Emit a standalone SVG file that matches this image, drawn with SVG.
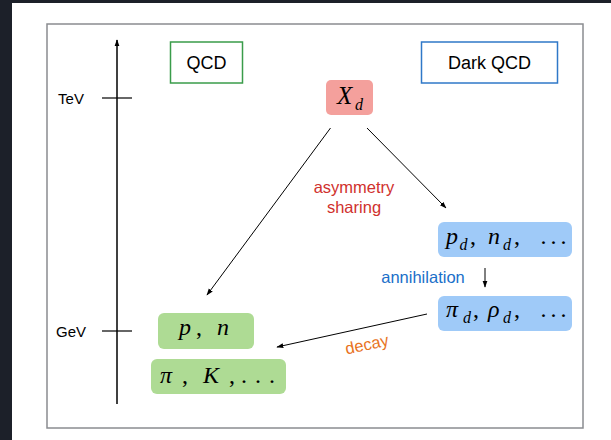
<svg xmlns="http://www.w3.org/2000/svg" width="611" height="440" viewBox="0 0 611 440">
<defs>
<marker id="ah" viewBox="0 0 10 10" refX="9" refY="5" markerWidth="7" markerHeight="7" orient="auto-start-reverse" markerUnits="userSpaceOnUse">
<path d="M0,1.5 L10,5 L0,8.5 Z" fill="#000"/>
</marker>
<style>
.lab{font-family:"Liberation Sans",Arial,sans-serif;font-size:18px;fill:#000;text-anchor:middle}
.ax{font-family:"Liberation Sans",Arial,sans-serif;font-size:15px;fill:#000;text-anchor:middle}
.math{font-family:"Liberation Serif","DejaVu Serif",serif;font-size:24px;fill:#000}
.it{font-style:italic}
.sub{font-size:16px;font-style:italic}
.note{font-family:"Liberation Sans",Arial,sans-serif;font-size:16.5px;text-anchor:middle}
.ln{stroke:#000;stroke-width:1;fill:none}
</style>
</defs>
<rect x="0" y="0" width="611" height="440" fill="#ffffff"/>
<rect x="0" y="0" width="12" height="440" fill="#1c2029"/>
<rect x="0" y="0" width="611" height="3" fill="#1c2029"/>
<rect x="47" y="24" width="536" height="404" fill="#ffffff" stroke="#8a8c90" stroke-width="1.5"/>

<g id="axis">
<line x1="117" y1="404" x2="117" y2="40" stroke="#000" stroke-width="1.5" marker-end="url(#ah)"/>
<line x1="102" y1="98" x2="132" y2="98" stroke="#000" stroke-width="1.2"/>
<line x1="102" y1="331" x2="132" y2="331" stroke="#000" stroke-width="1.2"/>
<text class="ax" x="71" y="103.5">TeV</text>
<text class="ax" x="71" y="336.5">GeV</text>
</g>

<g id="qcd">
<rect x="170.5" y="42" width="72" height="41" fill="#fff" stroke="#3a9c4a" stroke-width="1.5"/>
<text class="lab" x="206.5" y="69">QCD</text>
</g>
<g id="darkqcd">
<rect x="421.5" y="42" width="136" height="41" fill="#fff" stroke="#2f78c8" stroke-width="1.5"/>
<text class="lab" x="489.5" y="69">Dark QCD</text>
</g>

<g id="xd">
<rect x="326" y="80" width="47" height="35" rx="5" fill="#f4a09c"/>
<text class="math"><tspan class="it" x="337" y="103.5" style="font-size:25px">X</tspan><tspan class="sub" x="355" y="109.5">d</tspan></text>
</g>

<g id="pd">
<rect x="438" y="222" width="134" height="35" rx="6" fill="#9fcaf8"/>
<text class="math"><tspan class="it" x="446" y="244">p</tspan><tspan class="sub" x="459.5" y="249.5">d</tspan><tspan x="470" y="244">,</tspan><tspan class="it" x="488" y="244">n</tspan><tspan class="sub" x="503" y="249.5">d</tspan><tspan x="514" y="244">,</tspan><tspan x="540.5" y="244">.</tspan><tspan x="550.5" y="244">.</tspan><tspan x="560.5" y="244">.</tspan></text>
</g>

<g id="pid">
<rect x="438" y="296" width="134" height="35" rx="6" fill="#9fcaf8"/>
<text class="math"><tspan class="it" x="446" y="317">π</tspan><tspan class="sub" x="463" y="322.5">d</tspan><tspan x="473" y="317">,</tspan><tspan class="it" x="488" y="317">ρ</tspan><tspan class="sub" x="503" y="322.5">d</tspan><tspan x="514" y="317">,</tspan><tspan x="540.5" y="317">.</tspan><tspan x="550.5" y="317">.</tspan><tspan x="560.5" y="317">.</tspan></text>
</g>

<g id="pn">
<rect x="158" y="313" width="96" height="36" rx="6" fill="#aedb94"/>
<text class="math"><tspan class="it" x="179" y="335">p</tspan><tspan x="196" y="335">,</tspan><tspan class="it" x="217" y="335">n</tspan></text>
</g>

<g id="pik">
<rect x="151" y="359" width="135" height="35" rx="6" fill="#aedb94"/>
<text class="math"><tspan class="it" x="160" y="383">π</tspan><tspan x="182" y="383">,</tspan><tspan class="it" x="203" y="383">K</tspan><tspan x="229" y="383">,</tspan><tspan x="241" y="383">.</tspan><tspan x="255" y="383">.</tspan><tspan x="269" y="383">.</tspan></text>
</g>

<g id="connectors">
<line class="ln" x1="330.5" y1="128" x2="207" y2="295" marker-end="url(#ah)"/>
<line class="ln" x1="367" y1="128" x2="446" y2="208" marker-end="url(#ah)"/>
<line class="ln" x1="485" y1="268" x2="485" y2="287" marker-end="url(#ah)"/>
<line class="ln" x1="427" y1="314" x2="277" y2="347" marker-end="url(#ah)"/>
<text class="note" x="354" y="193" fill="#d0312d">asymmetry</text>
<text class="note" x="354" y="212.5" fill="#d0312d">sharing</text>
<text class="note" x="423" y="282.5" fill="#1a6fc9">annihilation</text>
<text class="note" x="367" y="350" fill="#e8731e" transform="rotate(-12 367 345)">decay</text>
</g>
</svg>
